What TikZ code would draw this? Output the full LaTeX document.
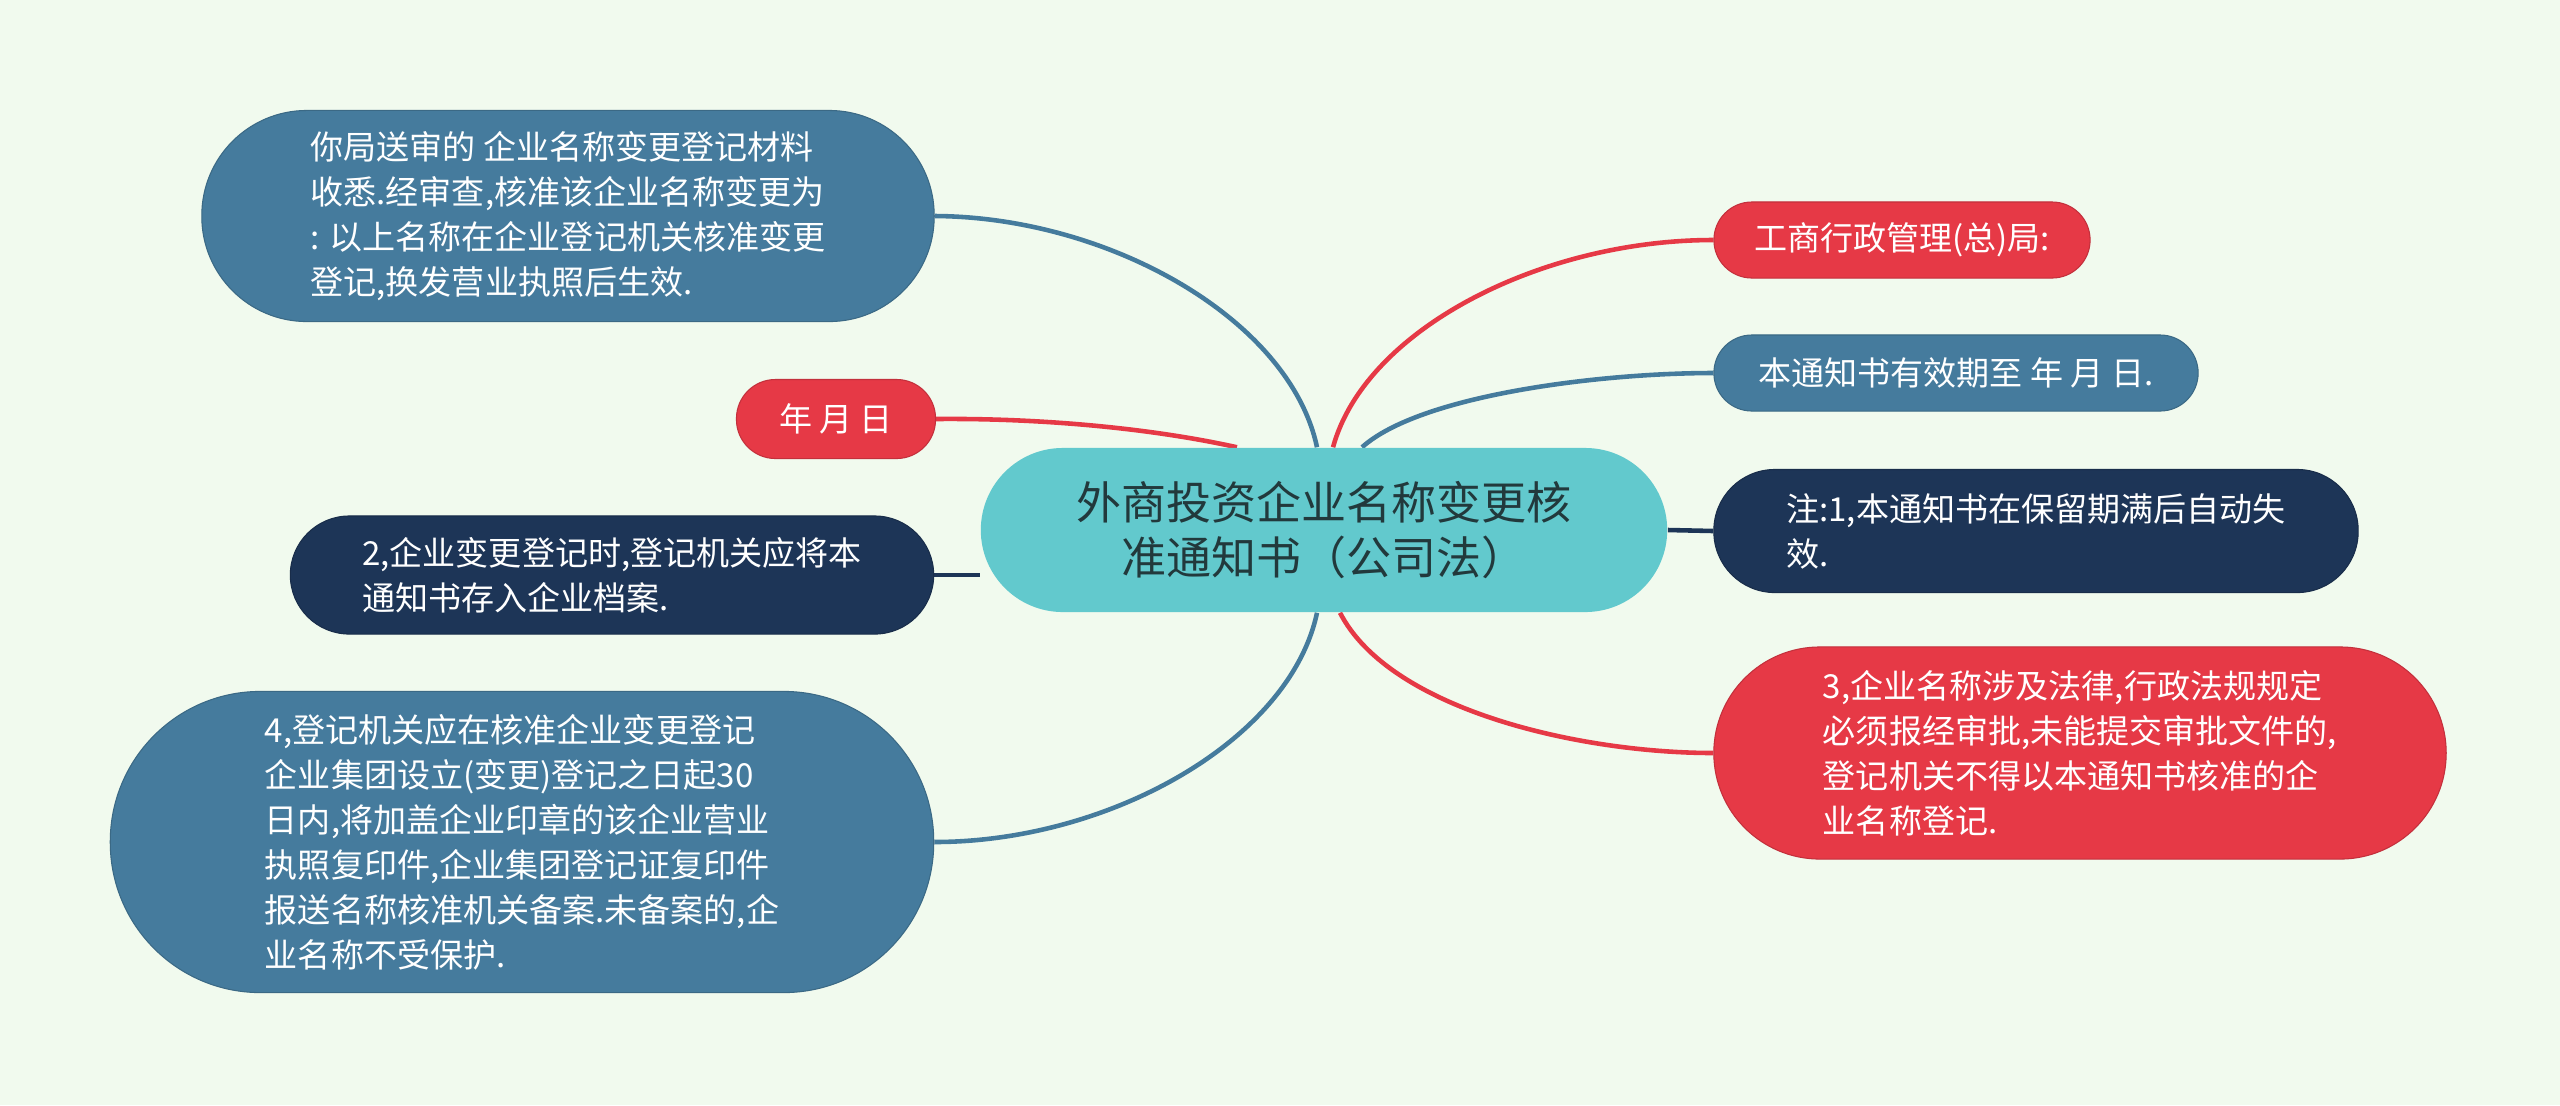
\documentclass[tikz,border=0pt]{standalone}
\usepackage{fontspec}
\setmainfont{Noto Sans CJK SC}
\usetikzlibrary{backgrounds}
\definecolor{fondo}{HTML}{F1FAEE}
\definecolor{nucleo}{HTML}{62C9CD}
\definecolor{nucleotexto}{HTML}{22393C}
\definecolor{azul}{HTML}{457B9D}
\definecolor{rojo}{HTML}{E63946}
\definecolor{marino}{HTML}{1D3557}
\tikzset{
  hub/.style={rectangle, fill=nucleo, text=nucleotexto, align=center, inner sep=0pt,
              font=\fontsize{12.8}{15.4}\selectfont},
  leaf/.style={rectangle, fill=#1, draw=#1!85!black, line width=0.3pt, text=white,
               align=left, inner sep=0pt, font=\fontsize{9.4}{12.8}\selectfont},
  rama/.style={line width=1.3pt, draw=#1}
}

\begin{document}
\begin{tikzpicture}[x=0.01cm, y=-0.01cm]
    \useasboundingbox (0,0) rectangle (2560,1105);
    % centre
    \node[hub, minimum width=6.86cm, minimum height=1.64cm, rounded corners=0.82cm] (hub) at (1324,530)
      {外商投资企业名称变更核\\准通知书（公司法）};
    % left branches
    \node[leaf=azul, minimum width=7.32cm, minimum height=2.11cm, rounded corners=1.05cm] (songshen) at (568,216)
      {你局送审的 企业名称变更登记材料\\收悉.经审查,核准该企业名称变更为\\: 以上名称在企业登记机关核准变更\\登记,换发营业执照后生效.};
    \node[leaf=rojo, minimum width=1.99cm, minimum height=0.79cm, rounded corners=0.39cm] (riqi) at (836,419)
      {年 月 日};
    \node[leaf=marino, minimum width=6.43cm, minimum height=1.18cm, rounded corners=0.59cm] (dangan) at (612,575)
      {2,企业变更登记时,登记机关应将本\\通知书存入企业档案.};
    \node[leaf=azul, minimum width=8.23cm, minimum height=3.01cm, rounded corners=1.5cm] (beian) at (522,842)
      {4,登记机关应在核准企业变更登记\\企业集团设立(变更)登记之日起30\\日内,将加盖企业印章的该企业营业\\执照复印件,企业集团登记证复印件\\报送名称核准机关备案.未备案的,企\\业名称不受保护.};
    % right branches
    \node[leaf=rojo, minimum width=3.76cm, minimum height=0.76cm, rounded corners=0.38cm] (juzhang) at (1902,240)
      {工商行政管理(总)局:};
    \node[leaf=azul, minimum width=4.84cm, minimum height=0.76cm, rounded corners=0.38cm] (youxiao) at (1956,373)
      {本通知书有效期至 年 月 日.};
    \node[leaf=marino, minimum width=6.44cm, minimum height=1.23cm, rounded corners=0.61cm] (baoliu) at (2036,531)
      {注:1,本通知书在保留期满后自动失\\效.};
    \node[leaf=rojo, minimum width=7.32cm, minimum height=2.12cm, rounded corners=1.06cm] (shenpi) at (2080,753)
      {3,企业名称涉及法律,行政法规规定\\必须报经审批,未能提交审批文件的,\\登记机关不得以本通知书核准的企\\业名称登记.};
    \begin{scope}[on background layer]
      \fill[fondo] (0,0) rectangle (2560,1105);
      \draw[rama=azul] ([xshift=-0.07cm]hub.north) .. controls (1290,320) and (1110,217) .. (songshen.east);
      \draw[rama=rojo] ([xshift=-0.87cm]hub.north) .. controls (1150,428) and (1040,418) .. (riqi.east);
      \draw[rama=marino] (dangan.east) -- (hub.west |- dangan.east);
      \draw[rama=azul] ([xshift=-0.07cm]hub.south) .. controls (1290,740) and (1110,842) .. (beian.east);
      \draw[rama=rojo] ([xshift=0.09cm]hub.north) .. controls (1365,330) and (1540,240) .. (juzhang.west);
      \draw[rama=azul] ([xshift=0.38cm]hub.north) .. controls (1420,395) and (1600,373) .. (youxiao.west);
      \draw[rama=marino] (hub.east) -- (baoliu.west);
      \draw[rama=rojo] ([xshift=0.16cm]hub.south) .. controls (1390,710) and (1580,753) .. (shenpi.west);
    \end{scope}
\end{tikzpicture}
\end{document}
